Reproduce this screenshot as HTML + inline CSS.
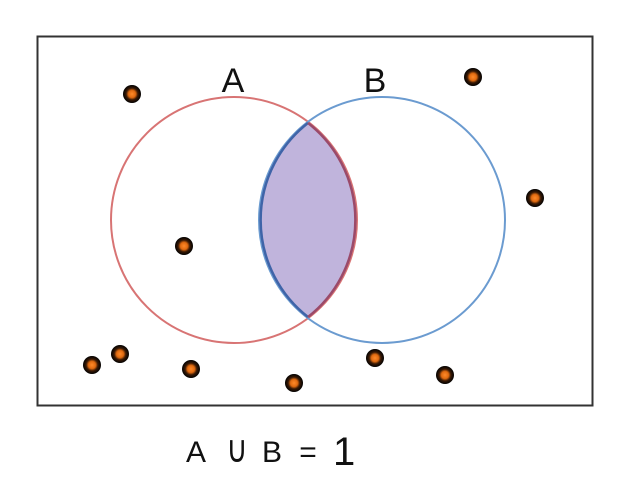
<!DOCTYPE html>
<html><head><style>html,body{margin:0;padding:0;background:#fff;}</style></head>
<body>
<svg width="626" height="477" viewBox="0 0 626 477" xmlns="http://www.w3.org/2000/svg">
<defs>
<radialGradient id="g" cx="0.5" cy="0.5" r="0.5">
<stop offset="0" stop-color="#ff8a2a"/><stop offset="0.4" stop-color="#e06a10"/><stop offset="0.65" stop-color="#3a1a05"/><stop offset="1" stop-color="#000"/>
</radialGradient>
<clipPath id="cA"><circle cx="234" cy="220" r="123"/></clipPath>
</defs>
<rect x="37.5" y="36.5" width="555" height="369" fill="none" stroke="#333" stroke-width="2"/>
<circle cx="382" cy="220" r="123" fill="#c0b4dc" clip-path="url(#cA)"/>
<circle cx="234" cy="220" r="123" fill="none" stroke="#d87474" stroke-width="2"/>
<circle cx="382" cy="220" r="123" fill="none" stroke="#6b9bd0" stroke-width="2"/>
<path d="M308,123 A123,123 0 0 0 308,317" fill="none" stroke="#3f64a8" stroke-width="2.5"/>
<path d="M308,123 A123,123 0 0 1 308,317" fill="none" stroke="#9a4a6a" stroke-width="2.5"/>
<text x="233" y="92" font-family="Liberation Sans, sans-serif" font-size="34" text-anchor="middle" fill="#111">A</text>
<text x="375" y="92" font-family="Liberation Sans, sans-serif" font-size="34" text-anchor="middle" fill="#111">B</text>
<g fill="url(#g)">
<circle cx="132" cy="94" r="9"/><circle cx="473" cy="77" r="9"/><circle cx="535" cy="198" r="9"/>
<circle cx="184" cy="246" r="9"/><circle cx="92" cy="365" r="9"/><circle cx="120" cy="354" r="9"/>
<circle cx="191" cy="369" r="9"/><circle cx="294" cy="383" r="9"/><circle cx="375" cy="358" r="9"/>
<circle cx="445" cy="375" r="9"/>
</g>
<g font-family="Liberation Sans, sans-serif" font-size="30" fill="#111">
<text x="186" y="462">A</text>
<text transform="translate(237,462) scale(1.05,1.35)" font-family="DejaVu Sans, sans-serif" font-size="28" text-anchor="middle">∪</text>
<text x="262" y="462">B</text>
<text x="308" y="462" text-anchor="middle">=</text>
<text x="333" y="465" font-size="40">1</text>
</g>
</svg>
</body></html>
